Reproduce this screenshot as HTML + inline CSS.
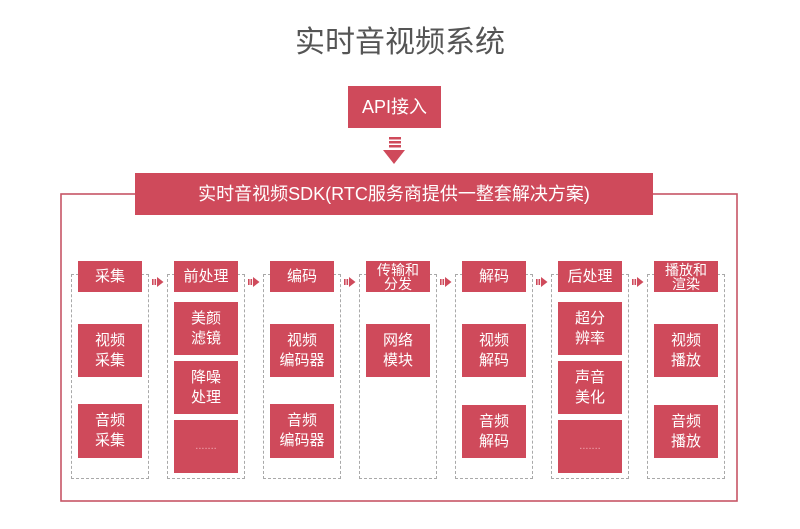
<!DOCTYPE html>
<html>
<head>
<meta charset="utf-8">
<style>
  html,body{margin:0;padding:0;background:#fff;}
  body{width:800px;height:529px;position:relative;overflow:hidden;
       font-family:"Liberation Sans","Noto Sans CJK SC",sans-serif;}
  .abs{position:absolute;}
  .box{position:absolute;background:#cf4a5b;color:#fff;display:flex;align-items:center;justify-content:center;text-align:center;
       font-family:"Liberation Sans","Noto Sans CJK SC",sans-serif;font-size:15px;line-height:20px;}
  .hd2{font-size:14px;line-height:14px;}
  .dots{font-size:11px;color:#f0a9b2;letter-spacing:0px;line-height:11px;}
  .dash{position:absolute;border:1px dashed #a9a9a9;box-sizing:border-box;}
  .title{position:absolute;left:0;width:800px;top:27px;text-align:center;font-size:30px;line-height:32px;color:#555;
         font-family:"Liberation Sans","Noto Sans CJK SC",sans-serif;letter-spacing:0px;}
</style>
</head>
<body>
<div class="title">实时音视频系统</div>

<!-- outer frame -->
<svg class="abs" style="left:0;top:0" width="800" height="529">
  <rect x="61" y="194" width="676" height="307" fill="none" stroke="#c65566" stroke-width="1.6"/>
  <!-- down arrow -->
  <rect x="389" y="137" width="12" height="2.5" fill="#cf4a5b"/>
  <rect x="389" y="141" width="12" height="2.5" fill="#cf4a5b"/>
  <rect x="389" y="145" width="12" height="2.5" fill="#cf4a5b"/>
  <polygon points="383,150 405,150 394,164" fill="#cf4a5b"/>
</svg>

<div class="box" style="left:348px;top:86px;width:93px;height:42px;font-size:18px;">API接入</div>
<div class="box" style="left:135px;top:173px;width:518px;height:42px;font-size:18px;">实时音视频SDK(RTC服务商提供一整套解决方案)</div>

<!-- dashed columns -->
<div class="dash" style="left:71px;top:274px;width:78px;height:205px;"></div>
<div class="dash" style="left:167px;top:274px;width:78px;height:205px;"></div>
<div class="dash" style="left:263px;top:274px;width:78px;height:205px;"></div>
<div class="dash" style="left:359px;top:274px;width:78px;height:205px;"></div>
<div class="dash" style="left:455px;top:274px;width:78px;height:205px;"></div>
<div class="dash" style="left:551px;top:274px;width:78px;height:205px;"></div>
<div class="dash" style="left:647px;top:274px;width:78px;height:205px;"></div>

<!-- arrows between columns -->
<svg class="abs" style="left:0;top:0" width="800" height="529">
  <g fill="#cf4a5b">
    <g transform="translate(0,0)"><rect x="152" y="279" width="1.6" height="6"/><rect x="154.5" y="279" width="1.6" height="6"/><polygon points="157,277 163.5,282 157,287"/></g>
    <g transform="translate(96,0)"><rect x="152" y="279" width="1.6" height="6"/><rect x="154.5" y="279" width="1.6" height="6"/><polygon points="157,277 163.5,282 157,287"/></g>
    <g transform="translate(192,0)"><rect x="152" y="279" width="1.6" height="6"/><rect x="154.5" y="279" width="1.6" height="6"/><polygon points="157,277 163.5,282 157,287"/></g>
    <g transform="translate(288,0)"><rect x="152" y="279" width="1.6" height="6"/><rect x="154.5" y="279" width="1.6" height="6"/><polygon points="157,277 163.5,282 157,287"/></g>
    <g transform="translate(384,0)"><rect x="152" y="279" width="1.6" height="6"/><rect x="154.5" y="279" width="1.6" height="6"/><polygon points="157,277 163.5,282 157,287"/></g>
    <g transform="translate(480,0)"><rect x="152" y="279" width="1.6" height="6"/><rect x="154.5" y="279" width="1.6" height="6"/><polygon points="157,277 163.5,282 157,287"/></g>
  </g>
</svg>

<!-- column 1 -->
<div class="box" style="left:78px;top:261px;width:64px;height:31px;">采集</div>
<div class="box" style="left:78px;top:324px;width:64px;height:53px;">视频<br>采集</div>
<div class="box" style="left:78px;top:404px;width:64px;height:54px;">音频<br>采集</div>

<!-- column 2 -->
<div class="box" style="left:174px;top:261px;width:64px;height:31px;">前处理</div>
<div class="box" style="left:174px;top:302px;width:64px;height:53px;">美颜<br>滤镜</div>
<div class="box" style="left:174px;top:361px;width:64px;height:53px;">降噪<br>处理</div>
<div class="box dots" style="left:174px;top:420px;width:64px;height:53px;">.......</div>

<!-- column 3 -->
<div class="box" style="left:270px;top:261px;width:64px;height:31px;">编码</div>
<div class="box" style="left:270px;top:324px;width:64px;height:53px;">视频<br>编码器</div>
<div class="box" style="left:270px;top:404px;width:64px;height:54px;">音频<br>编码器</div>

<!-- column 4 -->
<div class="box hd2" style="left:366px;top:261px;width:64px;height:31px;">传输和<br>分发</div>
<div class="box" style="left:366px;top:324px;width:64px;height:53px;">网络<br>模块</div>

<!-- column 5 -->
<div class="box" style="left:462px;top:261px;width:64px;height:31px;">解码</div>
<div class="box" style="left:462px;top:324px;width:64px;height:53px;">视频<br>解码</div>
<div class="box" style="left:462px;top:405px;width:64px;height:53px;">音频<br>解码</div>

<!-- column 6 -->
<div class="box" style="left:558px;top:261px;width:64px;height:31px;">后处理</div>
<div class="box" style="left:558px;top:302px;width:64px;height:53px;">超分<br>辨率</div>
<div class="box" style="left:558px;top:361px;width:64px;height:53px;">声音<br>美化</div>
<div class="box dots" style="left:558px;top:420px;width:64px;height:53px;">.......</div>

<!-- column 7 -->
<div class="box hd2" style="left:654px;top:261px;width:64px;height:31px;">播放和<br>渲染</div>
<div class="box" style="left:654px;top:324px;width:64px;height:53px;">视频<br>播放</div>
<div class="box" style="left:654px;top:405px;width:64px;height:53px;">音频<br>播放</div>

</body>
</html>
